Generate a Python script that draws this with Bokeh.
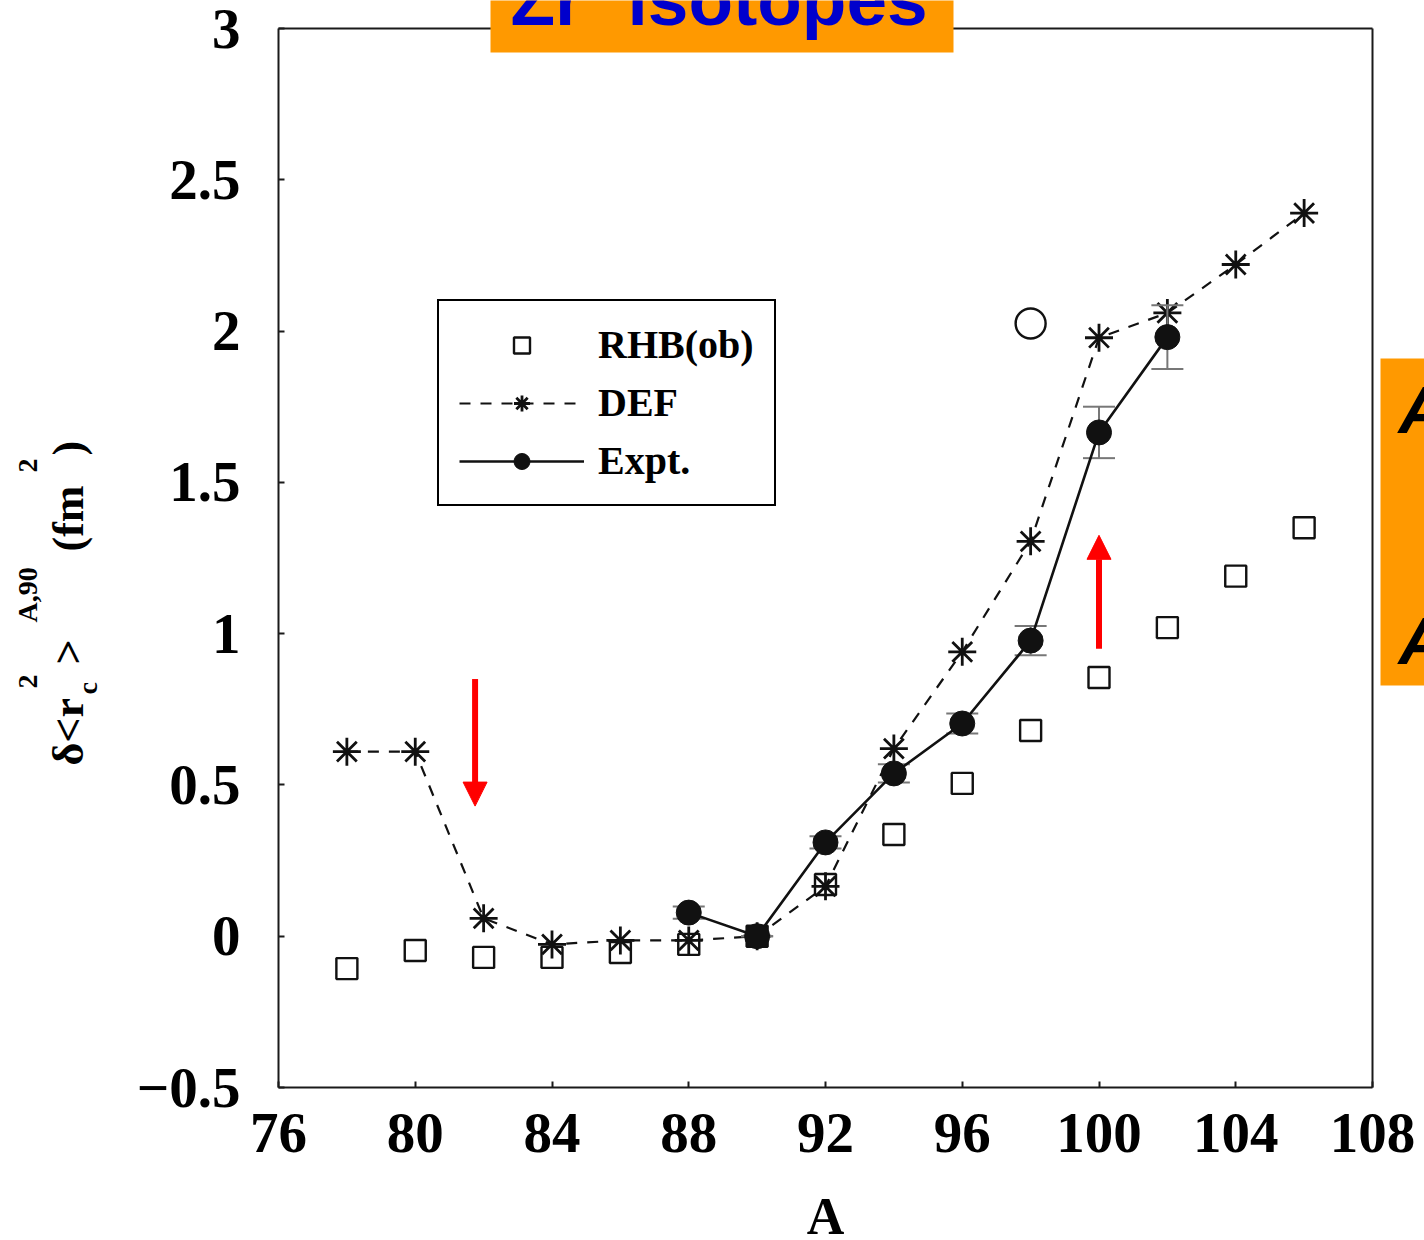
import math
from bokeh.plotting import figure
from bokeh.models import (Range1d, FixedTicker, Label, Legend, LegendItem, Arrow,
                          NormalHead, BoxAnnotation, LinearAxis)
from bokeh.embed import file_html
from bokeh.resources import INLINE

# ---------------- data ----------------
mass_rhb = [78, 80, 82, 84, 86, 88, 90, 92, 94, 96, 98, 100, 102, 104, 106]
rhb = [-0.107, -0.047, -0.07, -0.07, -0.054, -0.027, 0.0, 0.171, 0.336, 0.505, 0.68, 0.855, 1.02, 1.19, 1.35]

mass_def = [78, 80, 82, 84, 86, 88, 90, 92, 94, 96, 98, 100, 102, 104, 106]
dfm = [0.61, 0.61, 0.059, -0.027, -0.014, -0.014, 0.0, 0.165, 0.62, 0.94, 1.305, 1.978, 2.06, 2.22, 2.39]

mass_exp = [88, 90, 92, 94, 96, 98, 100, 102]
expt = [0.078, 0.0, 0.31, 0.538, 0.703, 0.977, 1.665, 1.98]
expt_err = [0.02, 0.0, 0.02, 0.03, 0.033, 0.048, 0.085, 0.105]

extra_mass = [98]
extra_val = [2.025]

x_ticks = [76, 80, 84, 88, 92, 96, 100, 104, 108]
y_ticks = [-0.5, 0, 0.5, 1, 1.5, 2, 2.5, 3]
y_tick_labels = ["\u22120.5", "0", "0.5", "1", "1.5", "2", "2.5", "3"]

arrow_down = dict(x=81.75, y_from=0.85, y_to=0.43)
arrow_up = dict(x=100.0, y_from=0.95, y_to=1.325)

X_MIN, X_MAX = 76, 108
Y_MIN, Y_MAX = -0.5, 3

SERIF = "Liberation Serif"
SANS = "Liberation Sans"
INK = "#111111"

# canvas geometry: the plotting box sits at canvas px 278..1372 x 28..1087
W, H = 1424, 1240
BL, BR, BT, BB = 278, 1372, 28, 1087
sx = (BR - BL) / (X_MAX - X_MIN)
sy = (BB - BT) / (Y_MAX - Y_MIN)
xr = Range1d(X_MIN - BL / sx, X_MAX + (W - BR) / sx)
yr = Range1d(Y_MIN - (H - BB) / sy, Y_MAX + BT / sy)

p = figure(width=W, height=H, x_range=xr, y_range=yr,
           output_backend="svg", toolbar_location=None, title=None,
           x_axis_location=None, y_axis_location=None,
           min_border=0, min_border_left=0, min_border_right=0,
           min_border_top=0, min_border_bottom=0)
p.grid.visible = False
p.outline_line_color = None
p.background_fill_color = "white"
p.border_fill_color = "white"

def style_axis(ax, labels=True):
    ax.axis_line_width = 2
    ax.axis_line_color = "#1a1a1a"
    ax.major_tick_in = 6 if labels else 0
    ax.major_tick_out = 0
    ax.major_tick_line_width = 2
    ax.major_tick_line_color = "#1a1a1a"
    ax.minor_tick_in = 0
    ax.minor_tick_out = 0
    ax.major_label_text_font = SERIF
    ax.major_label_text_font_style = "bold"
    ax.major_label_text_font_size = "57px" if labels else "0px"
    ax.major_label_text_color = "black"

xaxis = LinearAxis(fixed_location=Y_MIN, bounds=(X_MIN, X_MAX), ticker=FixedTicker(ticks=x_ticks))
style_axis(xaxis)
xaxis.major_label_standoff = 26
p.add_layout(xaxis, "below")

yaxis = LinearAxis(fixed_location=X_MIN, bounds=(Y_MIN, Y_MAX), ticker=FixedTicker(ticks=y_ticks))
style_axis(yaxis)
yaxis.major_label_standoff = 38
yaxis.major_label_overrides = {str(t) if t != int(t) else str(int(t)): lab
                               for t, lab in zip(y_ticks, y_tick_labels)}
p.add_layout(yaxis, "left")

top_ax = LinearAxis(fixed_location=Y_MAX, bounds=(X_MIN, X_MAX), ticker=FixedTicker(ticks=[]))
style_axis(top_ax, labels=False)
p.add_layout(top_ax, "above")
right_ax = LinearAxis(fixed_location=X_MAX, bounds=(Y_MIN, Y_MAX), ticker=FixedTicker(ticks=[]))
style_axis(right_ax, labels=False)
p.add_layout(right_ax, "right")

# ---------------- series ----------------
r_rhb = p.scatter(mass_rhb, rhb, marker="square", size=21, fill_color="white",
                  line_color=INK, line_width=2.4)

r_def_line = p.line(mass_def, dfm, line_color=INK, line_width=2.2, line_dash="11 10")
r_def_pts = p.scatter(mass_def, dfm, marker="asterisk", size=28, line_color=INK, line_width=2.8)

lo = [v - e for v, e in zip(expt, expt_err)]
hi = [v + e for v, e in zip(expt, expt_err)]
p.segment(mass_exp, lo, mass_exp, hi, line_color="#777777", line_width=2)
p.scatter(mass_exp + mass_exp, lo + hi, marker="dash", size=32, line_color="#777777", line_width=2)

r_exp_line = p.line(mass_exp, expt, line_color=INK, line_width=2.6)
r_exp_pts = p.scatter(mass_exp, expt, marker="circle", size=25, fill_color=INK, line_color=INK)

p.scatter(extra_mass, extra_val, marker="circle", size=30, fill_color="white",
          line_color=INK, line_width=2.4)

# ---------------- legend ----------------
legend = Legend(items=[
    LegendItem(label="RHB(ob)", renderers=[r_rhb]),
    LegendItem(label="DEF", renderers=[r_def_line, r_def_pts]),
    LegendItem(label="Expt.", renderers=[r_exp_line, r_exp_pts]),
], location=(437, H - 506))
legend.border_line_color = "black"
legend.border_line_alpha = 1.0
legend.border_line_width = 2
legend.background_fill_color = "white"
legend.background_fill_alpha = 1
legend.label_text_font = SERIF
legend.label_text_font_style = "bold"
legend.label_text_font_size = "40px"
legend.label_text_color = "black"
legend.glyph_width = 125
legend.glyph_height = 40
legend.label_height = 40
legend.label_standoff = 14
legend.spacing = 11
legend.padding = 20
legend.margin = 0
p.add_layout(legend, "center")

# ---------------- red arrows ----------------
for a in (arrow_down, arrow_up):
    p.add_layout(Arrow(end=NormalHead(size=24, fill_color="#ff0000", line_color="#ff0000"),
                       x_start=a["x"], y_start=a["y_from"], x_end=a["x"], y_end=a["y_to"],
                       line_color="#ff0000", line_width=6))

# ---------------- orange boxes / texts (screen px, canvas = frame) ----------------
def fy(Y):
    return H - Y

p.add_layout(BoxAnnotation(left=490, right=953, top=fy(-40), bottom=fy(52),
                           left_units="screen", right_units="screen", top_units="screen",
                           bottom_units="screen", fill_color="#FF9900", fill_alpha=1,
                           line_alpha=0, level="overlay"))
p.add_layout(BoxAnnotation(left=1380, right=1440, top=fy(358), bottom=fy(685),
                           left_units="screen", right_units="screen", top_units="screen",
                           bottom_units="screen", fill_color="#FF9900", fill_alpha=1,
                           line_alpha=0, level="overlay"))

SHIFT = 0.35  # empirical baseline correction (fraction of font size)

def lab(text, X, Y, size, font=SERIF, style="bold", color="black", angle=0.0, align="left"):
    if angle:
        X = X - SHIFT * size
    else:
        Y = Y - SHIFT * size
    p.add_layout(Label(x=X, y=fy(Y), x_units="screen", y_units="screen", text=text,
                       angle=angle, text_font=font, text_font_style=style,
                       text_font_size=f"{size}px", text_color=color, text_align=align,
                       text_baseline="alphabetic", level="overlay"))

lab("Zr", 510, 25, 73, font=SANS, color="#0000CC")
lab("isotopes", 627, 25, 73, font=SANS, color="#0000CC")
lab("A", 1398, 432, 67, font=SANS, style="bold italic")
lab("A", 1398, 663, 67, font=SANS, style="bold italic")

# x-axis title
lab("A", 825, 1234, 52, align="center")

# y-axis title, composed of rotated pieces (reading bottom to top)
R = math.pi / 2
lab("\u03b4<r", 83, 765, 44, angle=R)
lab("c", 97, 694, 28, angle=R)
lab("2", 37, 688, 28, angle=R)
lab(">", 83, 664, 44, angle=R)
lab("A,90", 37, 622, 28, angle=R)
lab("(fm", 83, 551, 44, angle=R)
lab("2", 37, 472, 28, angle=R)
lab(")", 83, 455, 44, angle=R)

open("out.html", "w").write(file_html(p, INLINE))
